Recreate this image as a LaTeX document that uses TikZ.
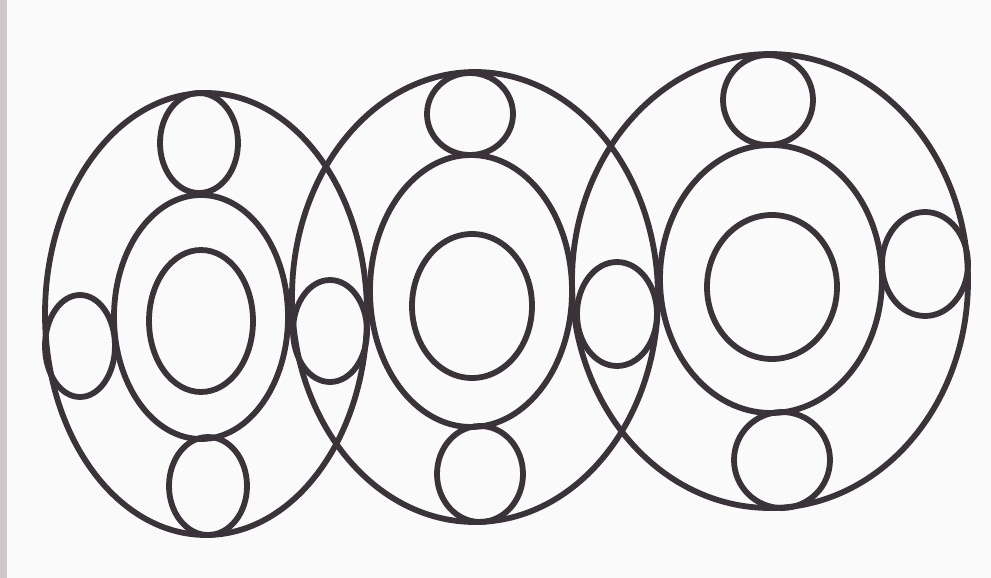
\documentclass[tikz,border=0pt]{standalone}
\definecolor{ink}{RGB}{58,52,58}
\definecolor{paper}{RGB}{250,250,250}
\definecolor{edge}{RGB}{205,200,200}
\tikzset{ring/.style={draw=ink,line width=5.8pt}}
\begin{document}
\begin{tikzpicture}[x=1pt,y=-1pt]
\fill[paper] (0,0) rectangle (991,578);
\fill[edge] (0,0) rectangle (7,578);
\useasboundingbox (0,0) rectangle (991,578);
% left unit
\draw[ring] (206,314) ellipse [x radius=161,y radius=221];
\draw[ring] (201,317) ellipse [x radius=87,y radius=122];
\draw[ring] (201,321) ellipse [x radius=52,y radius=71];
\draw[ring] (199,143) ellipse [x radius=39,y radius=50];
\draw[ring] (208,486) ellipse [x radius=39,y radius=49];
\draw[ring] (80,346) ellipse [x radius=35,y radius=51];
\draw[ring] (330,331) ellipse [x radius=37,y radius=51];
% middle unit
\draw[ring] (475,297) ellipse [x radius=183,y radius=225];
\draw[ring] (471,291) ellipse [x radius=101,y radius=136];
\draw[ring] (472,306) ellipse [x radius=60,y radius=72];
\draw[ring] (470,114) ellipse [x radius=43,y radius=41];
\draw[ring] (480,474) ellipse [x radius=43,y radius=48];
\draw[ring] (617,314) ellipse [x radius=40,y radius=52];
% right unit
\draw[ring] (770,281) ellipse [x radius=198,y radius=227];
\draw[ring] (771,279) ellipse [x radius=111,y radius=134];
\draw[ring] (772,287) ellipse [x radius=65,y radius=72];
\draw[ring] (768,100) ellipse [x radius=45,y radius=45];
\draw[ring] (782,460) ellipse [x radius=48,y radius=48];
\draw[ring] (925,264) ellipse [x radius=43,y radius=52];
\end{tikzpicture}
\end{document}
